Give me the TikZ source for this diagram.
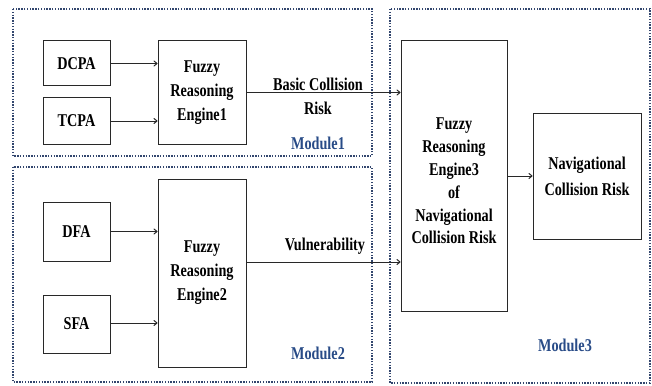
\documentclass[tikz,border=0pt]{standalone}
\usepackage{fontspec}
\setmainfont{Liberation Serif}[FakeStretch=0.79]
\usetikzlibrary{arrows.meta}
\definecolor{modblue}{RGB}{40,75,135}
\definecolor{dotblue}{RGB}{50,70,110}
\definecolor{linegray}{RGB}{40,40,40}
\begin{document}
\begin{tikzpicture}[x=1pt,y=-1pt,
  font=\bfseries\fontsize{18}{24}\selectfont,
  box/.style={draw=linegray, line width=1pt, inner sep=0pt, align=center, text=black},
  arr/.style={draw=linegray, line width=1pt, -{To[length=4pt,width=6pt]}},
  modbox/.style={draw=dotblue, line width=2.4pt, dash pattern=on 1.4pt off 1.4pt},
  modlabel/.style={text=modblue, inner sep=0pt}]
\useasboundingbox (0,0) rectangle (652,385);
% module frames
\draw[modbox] (13,9) rectangle (372,156);
\draw[modbox] (13,167) rectangle (372,382);
\draw[modbox] (390,9) rectangle (650,383);
% module 1
\node[box, minimum width=67pt, minimum height=45pt] (dcpa) at (76.5,63.5) {DCPA};
\node[box, minimum width=67pt, minimum height=46pt] (tcpa) at (76.5,121) {TCPA};
\node[box, minimum width=88pt, minimum height=103pt] (eng1) at (202,92.5) {Fuzzy\\Reasoning\\Engine1};
% module 2
\node[box, minimum width=67pt, minimum height=59pt] (dfa) at (76.5,231.5) {DFA};
\node[box, minimum width=67pt, minimum height=58pt] (sfa) at (76.5,324) {SFA};
\node[box, minimum width=88pt, minimum height=188pt] (eng2) at (202,273) {Fuzzy\\Reasoning\\Engine2};
% module 3
\node[box, minimum width=106pt, minimum height=270pt] (eng3) at (454,176) {};
\node[align=center, inner sep=0pt, font=\bfseries\fontsize{18}{22.8}\selectfont] (eng3t) at (eng3.center) [yshift=-5pt] {Fuzzy\\Reasoning\\Engine3\\of\\Navigational\\Collision Risk};
\node[box, minimum width=108pt, minimum height=126pt, font=\bfseries\fontsize{18}{26}\selectfont] (ncr) at (587,176) {Navigational\\Collision Risk};
% connectors
\draw[arr] (dcpa.east) -- (dcpa.east -| eng1.west);
\draw[arr] (tcpa.east) -- (tcpa.east -| eng1.west);
\draw[arr] (dfa.east) -- (dfa.east -| eng2.west);
\draw[arr] (sfa.east |- 0,323) -- (eng2.west |- 0,323);
\draw[arr] (eng1.east) -- (eng1.east -| eng3.west);
\coordinate (vout) at (eng2.east |- 0,262);
\draw[arr] (vout) -- (vout -| eng3.west);
\draw[arr] (eng3.east) -- (ncr.west);
% labels
\node[align=center, inner sep=0pt] (lbcr) at (318,96) {Basic Collision\\Risk};
\node[inner sep=0pt] (lvul) at (325,246) {Vulnerability};
\node[modlabel] (l1) at (318,143) {Module1};
\node[modlabel] (l2) at (318,353) {Module2};
\node[modlabel] (l3) at (565,345) {Module3};
\end{tikzpicture}
\end{document}
